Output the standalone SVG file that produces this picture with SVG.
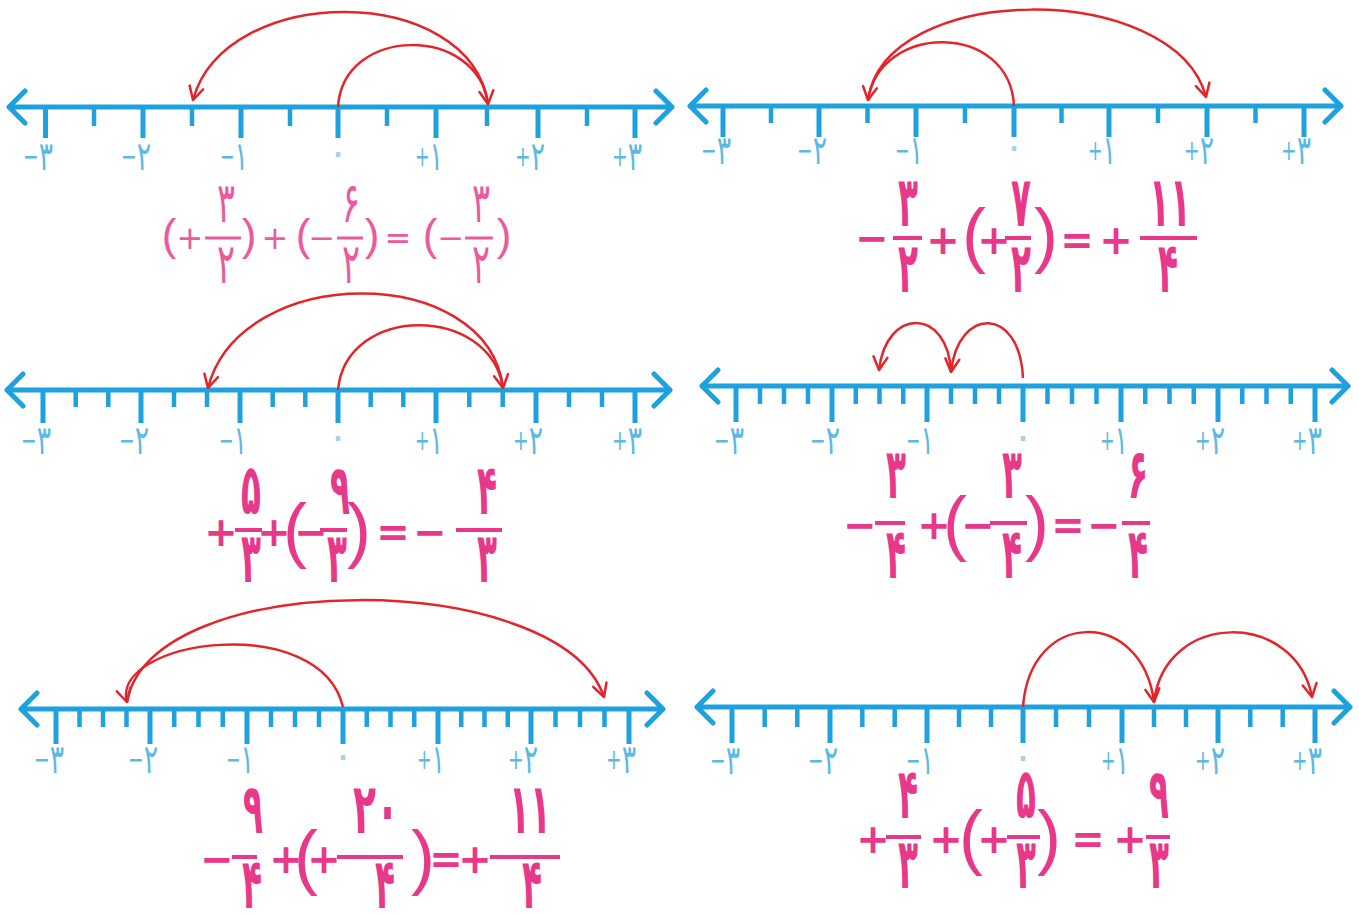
<svg xmlns="http://www.w3.org/2000/svg" width="1359" height="914" viewBox="0 0 1359 914">
<defs>
<style>
.ax{fill:none;stroke:#1ea2df;stroke-width:5;stroke-linecap:round;stroke-linejoin:round}
.tk{fill:none;stroke:#1ea2df;stroke-width:5}
.mt{fill:none;stroke:#1ea2df;stroke-width:4.5}
.lb{font-family:"DejaVu Sans",sans-serif;font-size:40px;fill:#5cb9e4;text-anchor:end}
.s{font-size:28px}
.z{font-family:"DejaVu Sans",sans-serif;font-size:40px;fill:#a9d2e6;text-anchor:middle}
.arc{fill:none;stroke:#e2252b;stroke-width:2.5;marker-end:url(#ah)}
.eq{font-family:"DejaVu Sans",sans-serif;font-weight:bold;fill:#e8388a;text-anchor:middle}
.dg{font-size:70px}
.sg{font-size:40px;dominant-baseline:central}
.pr{font-family:"Liberation Sans",sans-serif;font-size:72px;font-weight:normal;dominant-baseline:central}
.bar{stroke:#e8388a;stroke-width:4;fill:none}
.eq1{font-family:"DejaVu Sans",sans-serif;fill:#ea5a9c;text-anchor:middle}
.dg1{font-size:56px}
.sg1{font-size:32px;dominant-baseline:central}
.pr1{font-family:"Liberation Sans",sans-serif;font-size:44px;dominant-baseline:central}
.bar1{stroke:#ea5a9c;stroke-width:3;fill:none}
</style>
<marker id="ah" markerUnits="userSpaceOnUse" markerWidth="20" markerHeight="20" orient="auto" overflow="visible">
<path d="M-13,-7 L0,0 L-13,7" fill="none" stroke="#e2252b" stroke-width="2.5" stroke-linejoin="round" stroke-linecap="round"/>
</marker>
</defs>
<rect width="1359" height="914" fill="#ffffff"/>

<!-- Panel 1 -->
<g id="panel1">
<path class="ax" d="M9 107H672M25 91L9 107L25 123M656 91L672 107L656 123"/>
<path class="tk" d="M45.5 107V138M143 107V138M241 107V138M338 107V138M436 107V138M538 107V138M635 107V138"/>
<path class="mt" d="M94 107V126M192 107V126M290 107V126M387 107V126M487 107V126M587 107V126"/>
<g>
<text class="lb" x="53" y="170" textLength="30" lengthAdjust="spacingAndGlyphs"><tspan class="s" dy="-4">−</tspan><tspan dy="4">۳</tspan></text>
<text class="lb" x="151" y="170" textLength="30" lengthAdjust="spacingAndGlyphs"><tspan class="s" dy="-4">−</tspan><tspan dy="4">۲</tspan></text>
<text class="lb" x="248" y="170" textLength="28" lengthAdjust="spacingAndGlyphs"><tspan class="s" dy="-4">−</tspan><tspan dy="4">۱</tspan></text>
<text class="z" x="338" y="166">۰</text>
<text class="lb" x="443" y="170" textLength="28" lengthAdjust="spacingAndGlyphs"><tspan class="s" dy="-4">+</tspan><tspan dy="4">۱</tspan></text>
<text class="lb" x="545" y="170" textLength="30" lengthAdjust="spacingAndGlyphs"><tspan class="s" dy="-4">+</tspan><tspan dy="4">۲</tspan></text>
<text class="lb" x="642" y="170" textLength="30" lengthAdjust="spacingAndGlyphs"><tspan class="s" dy="-4">+</tspan><tspan dy="4">۳</tspan></text>
</g>
<g id="eq1">
<text class="eq1 pr1" x="169" y="234">(</text>
<text class="eq1 sg1" x="190" y="238">+</text>
<path class="bar1" d="M205 238H241"/>
<text class="eq1 dg1" x="226" y="222" textLength="18" lengthAdjust="spacingAndGlyphs">۳</text>
<text class="eq1 dg1" x="226" y="283" textLength="18" lengthAdjust="spacingAndGlyphs">۲</text>
<text class="eq1 pr1" x="249" y="234">)</text>
<text class="eq1 sg1" x="275" y="238">+</text>
<text class="eq1 pr1" x="303" y="234">(</text>
<text class="eq1 sg1" x="322" y="238">−</text>
<path class="bar1" d="M337 238H363"/>
<text class="eq1 dg1" x="351" y="222" textLength="18" lengthAdjust="spacingAndGlyphs">۶</text>
<text class="eq1 dg1" x="351" y="283" textLength="18" lengthAdjust="spacingAndGlyphs">۲</text>
<text class="eq1 pr1" x="372" y="234">)</text>
<text class="eq1 sg1" x="398" y="238">=</text>
<text class="eq1 pr1" x="430" y="234">(</text>
<text class="eq1 sg1" x="451" y="238">−</text>
<path class="bar1" d="M465 238H493"/>
<text class="eq1 dg1" x="481" y="222" textLength="18" lengthAdjust="spacingAndGlyphs">۳</text>
<text class="eq1 dg1" x="481" y="283" textLength="18" lengthAdjust="spacingAndGlyphs">۲</text>
<text class="eq1 pr1" x="504" y="234">)</text>
</g>
</g>

<!-- Panel 2 -->
<g id="panel2">
<path class="ax" d="M690 106H1341M706 90L690 106L706 122M1325 90L1341 106L1325 122"/>
<path class="tk" d="M723 106V137M819 106V137M916 106V137M1014 106V137M1109 106V137M1207 106V137M1304 106V137"/>
<path class="mt" d="M771 106V123M867.5 106V123M965 106V123M1061.5 106V123M1158 106V123M1255.5 106V123"/>
<g>
<text class="lb" x="731" y="164" textLength="30" lengthAdjust="spacingAndGlyphs"><tspan class="s" dy="-4">−</tspan><tspan dy="4">۳</tspan></text>
<text class="lb" x="827" y="164" textLength="30" lengthAdjust="spacingAndGlyphs"><tspan class="s" dy="-4">−</tspan><tspan dy="4">۲</tspan></text>
<text class="lb" x="923" y="164" textLength="28" lengthAdjust="spacingAndGlyphs"><tspan class="s" dy="-4">−</tspan><tspan dy="4">۱</tspan></text>
<text class="z" x="1014" y="160">۰</text>
<text class="lb" x="1116" y="164" textLength="28" lengthAdjust="spacingAndGlyphs"><tspan class="s" dy="-4">+</tspan><tspan dy="4">۱</tspan></text>
<text class="lb" x="1214" y="164" textLength="30" lengthAdjust="spacingAndGlyphs"><tspan class="s" dy="-4">+</tspan><tspan dy="4">۲</tspan></text>
<text class="lb" x="1311" y="164" textLength="30" lengthAdjust="spacingAndGlyphs"><tspan class="s" dy="-4">+</tspan><tspan dy="4">۳</tspan></text>
</g>
<g id="eq2">
<text class="eq sg" x="872" y="238">−</text>
<path class="bar" d="M893 238H922"/>
<text class="eq dg" x="908" y="226" textLength="20" lengthAdjust="spacingAndGlyphs">۳</text>
<text class="eq dg" x="908" y="292" textLength="20" lengthAdjust="spacingAndGlyphs">۲</text>
<text class="eq sg" x="943" y="240">+</text>
<text class="eq pr" x="974" y="234">(</text>
<text class="eq sg" x="994" y="240">+</text>
<path class="bar" d="M1005 238H1031"/>
<text class="eq dg" x="1021" y="226" textLength="20" lengthAdjust="spacingAndGlyphs">۷</text>
<text class="eq dg" x="1021" y="292" textLength="20" lengthAdjust="spacingAndGlyphs">۲</text>
<text class="eq pr" x="1046" y="234">)</text>
<text class="eq sg" x="1077" y="240">=</text>
<text class="eq sg" x="1116" y="240">+</text>
<path class="bar" d="M1140 238H1197"/>
<text class="eq dg" x="1170" y="226" textLength="42" lengthAdjust="spacingAndGlyphs">۱۱</text>
<text class="eq dg" x="1168" y="292" textLength="20" lengthAdjust="spacingAndGlyphs">۴</text>
</g>
</g>

<!-- Panel 3 -->
<g id="panel3">
<path class="ax" d="M7 390H670M23 374L7 390L23 406M654 374L670 390L654 406"/>
<path class="tk" d="M43 390V423M141 390V423M240 390V423M338 390V423M436 390V423M536 390V423M635 390V423"/>
<path class="mt" d="M75.7 390V407M108.3 390V407M174 390V407M207 390V407M272.7 390V407M305.3 390V407M370.7 390V407M403.3 390V407M469.3 390V407M502.7 390V407M569 390V407M602 390V407"/>
<g>
<text class="lb" x="51" y="454" textLength="30" lengthAdjust="spacingAndGlyphs"><tspan class="s" dy="-4">−</tspan><tspan dy="4">۳</tspan></text>
<text class="lb" x="149" y="454" textLength="30" lengthAdjust="spacingAndGlyphs"><tspan class="s" dy="-4">−</tspan><tspan dy="4">۲</tspan></text>
<text class="lb" x="247" y="454" textLength="28" lengthAdjust="spacingAndGlyphs"><tspan class="s" dy="-4">−</tspan><tspan dy="4">۱</tspan></text>
<text class="z" x="338" y="450">۰</text>
<text class="lb" x="443" y="454" textLength="28" lengthAdjust="spacingAndGlyphs"><tspan class="s" dy="-4">+</tspan><tspan dy="4">۱</tspan></text>
<text class="lb" x="543" y="454" textLength="30" lengthAdjust="spacingAndGlyphs"><tspan class="s" dy="-4">+</tspan><tspan dy="4">۲</tspan></text>
<text class="lb" x="642" y="454" textLength="30" lengthAdjust="spacingAndGlyphs"><tspan class="s" dy="-4">+</tspan><tspan dy="4">۳</tspan></text>
</g>
<g id="eq3">
<text class="eq sg" x="221" y="532">+</text>
<path class="bar" d="M235 530H262"/>
<text class="eq dg" x="251" y="514" textLength="20" lengthAdjust="spacingAndGlyphs">۵</text>
<text class="eq dg" x="251" y="582" textLength="20" lengthAdjust="spacingAndGlyphs">۳</text>
<text class="eq sg" x="274" y="532">+</text>
<text class="eq pr" x="295" y="529">(</text>
<text class="eq sg" x="311" y="532">−</text>
<path class="bar" d="M320 530H347"/>
<text class="eq dg" x="340" y="514" textLength="20" lengthAdjust="spacingAndGlyphs">۹</text>
<text class="eq dg" x="337" y="582" textLength="20" lengthAdjust="spacingAndGlyphs">۳</text>
<text class="eq pr" x="359" y="529">)</text>
<text class="eq sg" x="393" y="532">=</text>
<text class="eq sg" x="430" y="532">−</text>
<path class="bar" d="M456 530H502"/>
<text class="eq dg" x="487" y="514" textLength="20" lengthAdjust="spacingAndGlyphs">۴</text>
<text class="eq dg" x="487" y="582" textLength="20" lengthAdjust="spacingAndGlyphs">۳</text>
</g>
</g>

<!-- Panel 4 -->
<g id="panel4">
<path class="ax" d="M702 386H1348M718 370L702 386L718 402M1332 370L1348 386L1332 402"/>
<path class="tk" d="M736 386V422M832 386V422M927 386V422M1023 386V422M1121 386V422M1218 386V422M1315 386V422"/>
<path class="mt" d="M760 386V404M784 386V404M808 386V404M855.75 386V404M879.5 386V404M903.25 386V404M951 386V404M975 386V404M999 386V404M1047.5 386V404M1072 386V404M1096.5 386V404M1145.25 386V404M1169.5 386V404M1193.75 386V404M1242.25 386V404M1266.5 386V404M1290.75 386V404"/>
<g>
<text class="lb" x="744" y="454" textLength="30" lengthAdjust="spacingAndGlyphs"><tspan class="s" dy="-4">−</tspan><tspan dy="4">۳</tspan></text>
<text class="lb" x="840" y="454" textLength="30" lengthAdjust="spacingAndGlyphs"><tspan class="s" dy="-4">−</tspan><tspan dy="4">۲</tspan></text>
<text class="lb" x="934" y="454" textLength="28" lengthAdjust="spacingAndGlyphs"><tspan class="s" dy="-4">−</tspan><tspan dy="4">۱</tspan></text>
<text class="z" x="1023" y="450">۰</text>
<text class="lb" x="1128" y="454" textLength="28" lengthAdjust="spacingAndGlyphs"><tspan class="s" dy="-4">+</tspan><tspan dy="4">۱</tspan></text>
<text class="lb" x="1225" y="454" textLength="30" lengthAdjust="spacingAndGlyphs"><tspan class="s" dy="-4">+</tspan><tspan dy="4">۲</tspan></text>
<text class="lb" x="1322" y="454" textLength="30" lengthAdjust="spacingAndGlyphs"><tspan class="s" dy="-4">+</tspan><tspan dy="4">۳</tspan></text>
</g>
<g id="eq4">
<text class="eq sg" x="860" y="525">−</text>
<path class="bar" d="M875 523H905"/>
<text class="eq dg" x="896" y="498" textLength="20" lengthAdjust="spacingAndGlyphs">۳</text>
<text class="eq dg" x="896" y="578" textLength="20" lengthAdjust="spacingAndGlyphs">۴</text>
<text class="eq sg" x="934" y="525">+</text>
<text class="eq pr" x="955" y="522">(</text>
<text class="eq sg" x="978" y="525">−</text>
<path class="bar" d="M990 523H1027"/>
<text class="eq dg" x="1012" y="498" textLength="20" lengthAdjust="spacingAndGlyphs">۳</text>
<text class="eq dg" x="1012" y="578" textLength="20" lengthAdjust="spacingAndGlyphs">۴</text>
<text class="eq pr" x="1037" y="522">)</text>
<text class="eq sg" x="1068" y="525">=</text>
<text class="eq sg" x="1104" y="525">−</text>
<path class="bar" d="M1122 523H1150"/>
<text class="eq dg" x="1138" y="498" textLength="20" lengthAdjust="spacingAndGlyphs">۶</text>
<text class="eq dg" x="1138" y="578" textLength="20" lengthAdjust="spacingAndGlyphs">۴</text>
</g>
</g>

<!-- Panel 5 -->
<g id="panel5">
<path class="ax" d="M21 709H663M37 693L21 709L37 725M647 693L663 709L647 725"/>
<path class="tk" d="M56 709V744M150 709V744M247 709V744M343 709V744M438 709V744M531 709V744M629 709V744"/>
<path class="mt" d="M79.5 709V727M103 709V727M126.5 709V727M174.25 709V727M198.5 709V727M222.75 709V727M271 709V727M295 709V727M319 709V727M366.75 709V727M390.5 709V727M414.25 709V727M461.25 709V727M484.5 709V727M507.75 709V727M555.5 709V727M580 709V727M604.5 709V727"/>
<g>
<text class="lb" x="64" y="773" textLength="30" lengthAdjust="spacingAndGlyphs"><tspan class="s" dy="-4">−</tspan><tspan dy="4">۳</tspan></text>
<text class="lb" x="158" y="773" textLength="30" lengthAdjust="spacingAndGlyphs"><tspan class="s" dy="-4">−</tspan><tspan dy="4">۲</tspan></text>
<text class="lb" x="254" y="773" textLength="28" lengthAdjust="spacingAndGlyphs"><tspan class="s" dy="-4">−</tspan><tspan dy="4">۱</tspan></text>
<text class="z" x="343" y="769">۰</text>
<text class="lb" x="445" y="773" textLength="28" lengthAdjust="spacingAndGlyphs"><tspan class="s" dy="-4">+</tspan><tspan dy="4">۱</tspan></text>
<text class="lb" x="538" y="773" textLength="30" lengthAdjust="spacingAndGlyphs"><tspan class="s" dy="-4">+</tspan><tspan dy="4">۲</tspan></text>
<text class="lb" x="636" y="773" textLength="30" lengthAdjust="spacingAndGlyphs"><tspan class="s" dy="-4">+</tspan><tspan dy="4">۳</tspan></text>
</g>
<g id="eq5">
<text class="eq sg" x="217" y="859">−</text>
<path class="bar" d="M232 857H257"/>
<text class="eq dg" x="253" y="833" textLength="20" lengthAdjust="spacingAndGlyphs">۹</text>
<text class="eq dg" x="252" y="908" textLength="20" lengthAdjust="spacingAndGlyphs">۴</text>
<text class="eq sg" x="286" y="859">+</text>
<text class="eq pr" x="306" y="856">(</text>
<text class="eq sg" x="324" y="859">+</text>
<path class="bar" d="M337 857H403"/>
<text class="eq dg" x="376" y="833" textLength="46" lengthAdjust="spacingAndGlyphs">۲۰</text>
<text class="eq dg" x="385" y="908" textLength="20" lengthAdjust="spacingAndGlyphs">۴</text>
<text class="eq pr" x="423" y="856">)</text>
<text class="eq sg" x="446" y="859">=</text>
<text class="eq sg" x="475" y="859">+</text>
<path class="bar" d="M490 857H560"/>
<text class="eq dg" x="530" y="833" textLength="42" lengthAdjust="spacingAndGlyphs">۱۱</text>
<text class="eq dg" x="532" y="908" textLength="20" lengthAdjust="spacingAndGlyphs">۴</text>
</g>
</g>

<!-- Panel 6 -->
<g id="panel6">
<path class="ax" d="M697 707H1350M713 691L697 707L713 723M1334 691L1350 707L1334 723"/>
<path class="tk" d="M732 707V743M830 707V743M927 707V743M1023 707V743M1122 707V743M1218 707V743M1315 707V743"/>
<path class="mt" d="M764.7 707V727M797.3 707V727M862.3 707V727M894.7 707V727M959 707V727M991 707V727M1056 707V727M1089 707V727M1154 707V727M1186 707V727M1250.3 707V727M1282.7 707V727"/>
<g>
<text class="lb" x="740" y="774" textLength="30" lengthAdjust="spacingAndGlyphs"><tspan class="s" dy="-4">−</tspan><tspan dy="4">۳</tspan></text>
<text class="lb" x="838" y="774" textLength="30" lengthAdjust="spacingAndGlyphs"><tspan class="s" dy="-4">−</tspan><tspan dy="4">۲</tspan></text>
<text class="lb" x="934" y="774" textLength="28" lengthAdjust="spacingAndGlyphs"><tspan class="s" dy="-4">−</tspan><tspan dy="4">۱</tspan></text>
<text class="z" x="1023" y="770">۰</text>
<text class="lb" x="1129" y="774" textLength="28" lengthAdjust="spacingAndGlyphs"><tspan class="s" dy="-4">+</tspan><tspan dy="4">۱</tspan></text>
<text class="lb" x="1225" y="774" textLength="30" lengthAdjust="spacingAndGlyphs"><tspan class="s" dy="-4">+</tspan><tspan dy="4">۲</tspan></text>
<text class="lb" x="1322" y="774" textLength="30" lengthAdjust="spacingAndGlyphs"><tspan class="s" dy="-4">+</tspan><tspan dy="4">۳</tspan></text>
</g>
<g id="eq6">
<text class="eq sg" x="873" y="839">+</text>
<path class="bar" d="M886 837H921"/>
<text class="eq dg" x="908" y="818" textLength="20" lengthAdjust="spacingAndGlyphs">۴</text>
<text class="eq dg" x="908" y="888" textLength="20" lengthAdjust="spacingAndGlyphs">۳</text>
<text class="eq sg" x="946" y="839">+</text>
<text class="eq pr" x="971" y="836">(</text>
<text class="eq sg" x="994" y="839">+</text>
<path class="bar" d="M1007 837H1040"/>
<text class="eq dg" x="1026" y="818" textLength="20" lengthAdjust="spacingAndGlyphs">۵</text>
<text class="eq dg" x="1026" y="888" textLength="20" lengthAdjust="spacingAndGlyphs">۳</text>
<text class="eq pr" x="1049" y="836">)</text>
<text class="eq sg" x="1088" y="839">=</text>
<text class="eq sg" x="1130" y="839">+</text>
<path class="bar" d="M1146 837H1170"/>
<text class="eq dg" x="1159" y="818" textLength="20" lengthAdjust="spacingAndGlyphs">۹</text>
<text class="eq dg" x="1159" y="888" textLength="20" lengthAdjust="spacingAndGlyphs">۳</text>
</g>
</g>

<!-- Connectors: jump arcs -->
<g id="connectors">
<path class="arc" d="M338 107C343 25 478 25 488 104"/>
<path class="arc" d="M488 104C470 -18 225 -18 193 100"/>
<path class="arc" d="M1014 106C1010 22 880 22 868 100"/>
<path class="arc" d="M868 100C885 -20 1175 -20 1206 97"/>
<path class="arc" d="M338 390C346 304 490 304 503 388"/>
<path class="arc" d="M503 388C488 262 240 262 208 388"/>
<path class="arc" d="M1023 378C1020 306 958 306 951 372"/>
<path class="arc" d="M951 372C948 307 886 307 879 370"/>
<path class="arc" d="M343 707C320 610 110 640 127 702"/>
<path class="arc" d="M127 702C150 567 560 567 604 697"/>
<path class="arc" d="M1023 707C1030 608 1142 608 1154 702"/>
<path class="arc" d="M1154 702C1165 610 1296 610 1312 697"/>
</g>
</svg>
